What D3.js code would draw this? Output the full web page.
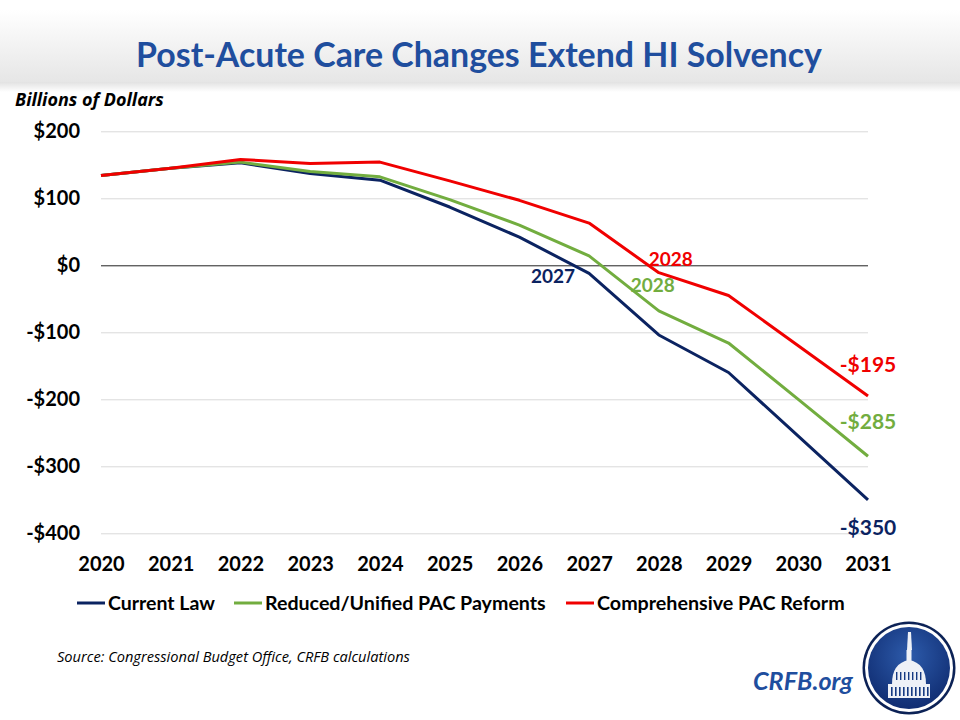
<!DOCTYPE html>
<html>
<head>
<meta charset="utf-8">
<script src="https://cdn.jsdelivr.net/npm/d3@7"></script>
<style>
  body { margin: 0; background: #fff; }
  svg { display: block; font-family: Lato, "Open Sans", sans-serif; }
</style>
</head>
<body>
<svg id="chart" width="960" height="720"></svg>
<script>
const years = ["2020","2021","2022","2023","2024","2025","2026","2027","2028","2029","2030","2031"];
const currentLaw = [134, 145, 153, 137, 127, 87, 42, -12, -104, -160, -255, -350];
const reducedPAC = [134, 145, 154, 140, 132, 98, 60, 14, -68, -116, -200, -285];
const comprehensivePAC = [134, 145, 158, 152, 154, 126, 97, 63, -11, -45, -120, -195];
const yTicks = [200, 100, 0, -100, -200, -300, -400];
const seriesNames = ["Current Law", "Reduced/Unified PAC Payments", "Comprehensive PAC Reform"];

const navy = "#0b2361", green = "#72ad3f", red = "#f00000", titleBlue = "#1f4e9e";

const svg = d3.select("#chart");

// shrink/grow a text's font size so it spans the given width
function fitWidth(sel, w) {
  const node = sel.node();
  const fs = parseFloat(sel.attr("font-size"));
  const cur = node.getComputedTextLength();
  if (cur > 0) sel.attr("font-size", (fs * w / cur).toFixed(2));
  return sel;
}

// header band
const defs = svg.append("defs");
const hg = defs.append("linearGradient").attr("id", "head").attr("x1", 0).attr("x2", 0).attr("y1", 0).attr("y2", 1);
hg.append("stop").attr("offset", "0%").attr("stop-color", "#ffffff");
hg.append("stop").attr("offset", "100%").attr("stop-color", "#e6e6e6");
const sg = defs.append("linearGradient").attr("id", "shadow").attr("x1", 0).attr("x2", 0).attr("y1", 0).attr("y2", 1);
sg.append("stop").attr("offset", "0%").attr("stop-color", "#e2e2e2");
sg.append("stop").attr("offset", "100%").attr("stop-color", "#ffffff");
svg.append("rect").attr("x", 0).attr("y", 10).attr("width", 960).attr("height", 72).attr("fill", "url(#head)");
svg.append("rect").attr("x", 0).attr("y", 82).attr("width", 960).attr("height", 10).attr("fill", "url(#shadow)");

fitWidth(svg.append("text").attr("x", 479).attr("y", 67).attr("text-anchor", "middle")
  .attr("font-size", 30).attr("font-weight", 700).attr("fill", titleBlue)
  .text("Post-Acute Care Changes Extend HI Solvency"), 686);

fitWidth(svg.append("text").attr("x", 15).attr("y", 106)
  .attr("font-size", 16).attr("font-weight", 700).attr("font-style", "italic").attr("fill", "#000")
  .attr("font-family", "'Open Sans', sans-serif")
  .text("Billions of Dollars"), 149);

const x = d3.scalePoint().domain(years).range([101, 868]);
const y = d3.scaleLinear().domain([-400, 200]).range([533.3, 131.3]);

// gridlines
const yAxis = d3.axisLeft(y).tickValues(yTicks).tickSize(-(868 - 101))
  .tickFormat(d => (d < 0 ? "-$" : "$") + Math.abs(d));
const gy = svg.append("g").attr("transform", "translate(101,0)").call(yAxis);
gy.select(".domain").remove();
gy.selectAll(".tick line").attr("stroke", d => d === 0 ? "#222" : "#d9d9d9").attr("stroke-width", 1);
gy.selectAll(".tick text").attr("x", -21).attr("font-size", 20).attr("font-weight", 700)
  .attr("fill", "#000").attr("font-family", "Lato, sans-serif");

const xAxis = d3.axisBottom(x).tickSize(0).tickPadding(0);
const gx = svg.append("g").attr("transform", "translate(0,557)").call(xAxis);
gx.select(".domain").remove();
gx.selectAll(".tick text").attr("font-size", 20).attr("font-weight", 700)
  .attr("fill", "#000").attr("font-family", "Lato, sans-serif");

const series = [
  { name: seriesNames[0], values: currentLaw, color: navy },
  { name: seriesNames[1], values: reducedPAC, color: green },
  { name: seriesNames[2], values: comprehensivePAC, color: red }
];

const line = d3.line().x((d, i) => x(years[i])).y(d => y(d));

svg.append("g").selectAll("path").data(series).join("path")
  .attr("d", d => line(d.values))
  .attr("fill", "none")
  .attr("stroke", d => d.color)
  .attr("stroke-width", 3)
  .attr("stroke-linejoin", "round");

// annotations
const notes = [
  { text: "2027", yr: "2027", v: currentLaw[7], dx: -36, dy: 10, color: navy },
  { text: "2028", yr: "2028", v: reducedPAC[8], dx: -6, dy: -19, color: green },
  { text: "2028", yr: "2028", v: comprehensivePAC[8], dx: 12, dy: -7, color: red },
  { text: "-$195", yr: "2031", v: comprehensivePAC[11], dx: 0, dy: -24, color: red },
  { text: "-$285", yr: "2031", v: reducedPAC[11], dx: 0, dy: -27, color: green },
  { text: "-$350", yr: "2031", v: currentLaw[11], dx: 0, dy: 35, color: navy }
];
svg.append("g").selectAll("text").data(notes).join("text")
  .attr("x", d => x(d.yr) + d.dx)
  .attr("y", d => y(d.v) + d.dy)
  .attr("text-anchor", "middle")
  .attr("font-size", d => d.text.startsWith("-") ? 21 : 19)
  .attr("font-weight", 700)
  .attr("fill", d => d.color)
  .text(d => d.text);

// legend
const legendX = [77, 234, 566];
const legendW = [107, 281, 248];
const lg = svg.append("g").selectAll("g").data(series).join("g")
  .attr("transform", (d, i) => `translate(${legendX[i]},603)`);
lg.append("line").attr("x1", 0).attr("x2", 28).attr("y1", 0).attr("y2", 0)
  .attr("stroke", d => d.color).attr("stroke-width", 3);
lg.append("text").attr("x", 31).attr("y", 7).attr("font-size", 19).attr("font-weight", 700)
  .attr("fill", "#000").text(d => d.name)
  .each(function(d, i) { fitWidth(d3.select(this), legendW[i]); });

fitWidth(svg.append("text").attr("x", 57).attr("y", 662).attr("font-size", 13).attr("font-style", "italic")
  .attr("font-family", "'Open Sans', sans-serif")
  .attr("fill", "#000").text("Source: Congressional Budget Office, CRFB calculations"), 353);

fitWidth(svg.append("text").attr("x", 753).attr("y", 690)
  .attr("font-size", 23).attr("font-weight", 700).attr("font-style", "italic").attr("fill", titleBlue)
  .text("CRFB.org"), 100);

// logo
const rg = defs.append("radialGradient").attr("id", "logo").attr("cx", "50%").attr("cy", "35%").attr("r", "65%");
rg.append("stop").attr("offset", "0%").attr("stop-color", "#2d5bab");
rg.append("stop").attr("offset", "100%").attr("stop-color", "#102d72");
const logo = svg.append("g").attr("transform", "translate(909,668)");
logo.append("circle").attr("r", 46.5).attr("fill", "#0c2256");
logo.append("circle").attr("r", 44).attr("fill", "#fff");
logo.append("circle").attr("r", 41).attr("fill", "url(#logo)");
// simple capitol dome
const dome = logo.append("g").attr("fill", "#eef1f7");
dome.append("rect").attr("x", -21).attr("y", 16).attr("width", 42).attr("height", 14);
dome.append("path").attr("d", "M-17,16 Q-17,-5 0,-8 Q17,-5 17,16 Z");
dome.append("rect").attr("x", -2.5).attr("y", -18).attr("width", 5).attr("height", 11);
dome.append("path").attr("d", "M-1,-36 L2,-36 L3,-18 L-2,-18 Z");
const cols = d3.range(-18, 20, 4);
dome.selectAll(".col").data(cols).join("rect").attr("class", "col")
  .attr("x", d => d).attr("y", 19).attr("width", 1.6).attr("height", 9).attr("fill", "#163a82");
dome.selectAll(".dcol").data(d3.range(-13, 14, 4)).join("rect").attr("class", "dcol")
  .attr("x", d => d).attr("y", 4).attr("width", 1.4).attr("height", 8).attr("fill", "#163a82");
</script>
</body>
</html>
